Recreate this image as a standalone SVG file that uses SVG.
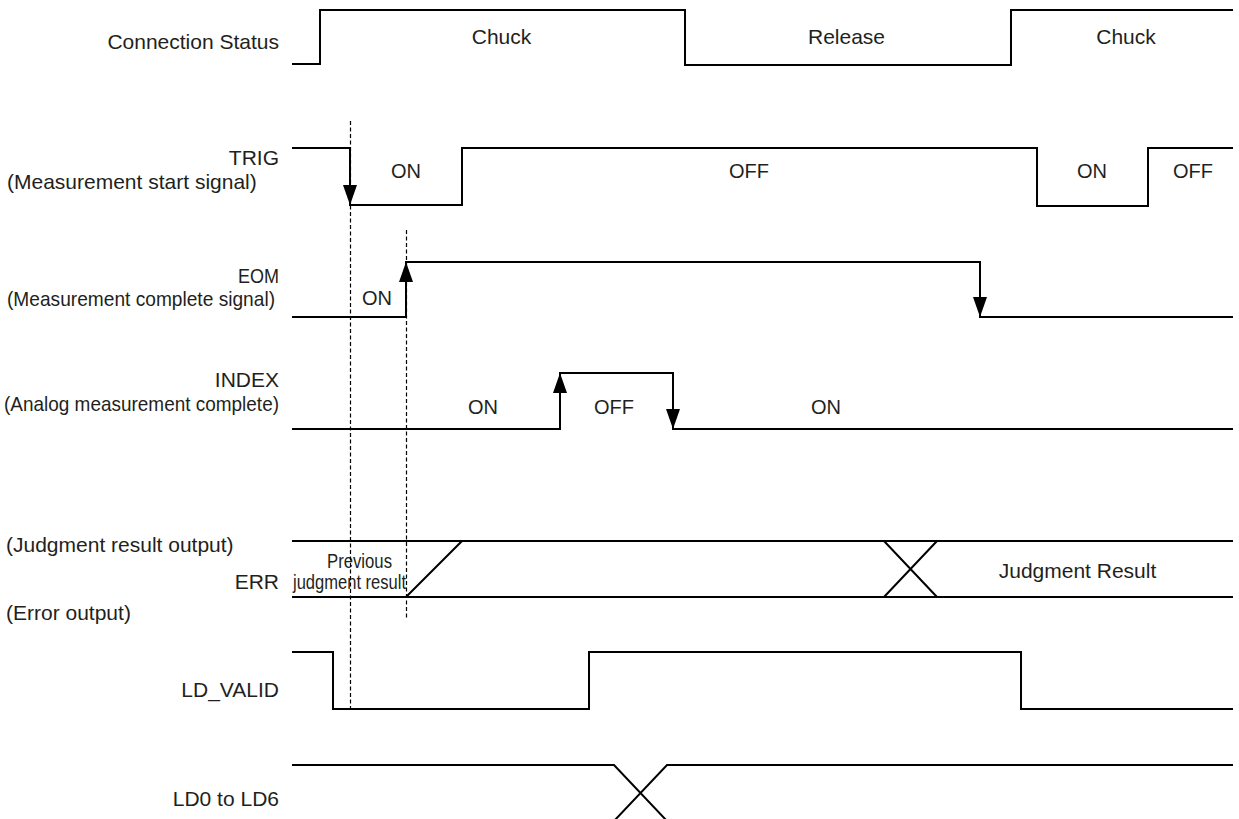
<svg xmlns="http://www.w3.org/2000/svg" width="1239" height="819" viewBox="0 0 1239 819">
  <style>
    .lbl { font-family: "Liberation Sans", Arial, sans-serif; font-size: 21px; fill: #231f20; }
    .st { font-family: "Liberation Sans", Arial, sans-serif; font-size: 20px; fill: #231f20; }
    .end { text-anchor: end; }
    .mid { text-anchor: middle; }
    .wave { fill: none; stroke: #000; stroke-width: 2; stroke-linejoin: miter; stroke-linecap: butt; }
    .arrow { fill: none; stroke: #000; stroke-width: 2; marker-end: url(#ah); }
    .guide { fill: none; stroke: #000; stroke-width: 1.2; stroke-dasharray: 4 2.5; }
  </style>
  <defs>
    <marker id="ah" markerUnits="userSpaceOnUse" viewBox="0 0 20 14" markerWidth="20" markerHeight="14" refX="20" refY="7" orient="auto">
      <path d="M0,0 L20,7 L0,14 z" fill="#000"/>
    </marker>
  </defs>
  <rect width="1239" height="819" fill="#fff"/>

  <g id="connection-status">
    <text class="lbl end" x="279" y="49">Connection Status</text>
    <path class="wave" d="M292,64 H320 V10 H685 V65 H1011 V10 H1233"/>
    <text class="lbl mid" x="501.5" y="44">Chuck</text>
    <text class="lbl mid" x="846.5" y="44">Release</text>
    <text class="lbl mid" x="1126" y="44">Chuck</text>
  </g>

  <g id="trig">
    <text class="lbl end" x="279" y="165">TRIG</text>
    <text class="lbl" x="7" y="188.5">(Measurement start signal)</text>
    <path class="wave" d="M292,148 H350 V205 H462 V148 H1037 V206 H1148 V148 H1233"/>
    <text class="st mid" x="406" y="178">ON</text>
    <text class="st mid" x="749" y="178">OFF</text>
    <text class="st mid" x="1092" y="178">ON</text>
    <text class="st mid" x="1193" y="178">OFF</text>
  </g>

  <g id="eom">
    <text class="lbl end" x="279" y="283" textLength="41" lengthAdjust="spacingAndGlyphs">EOM</text>
    <text class="lbl" x="7" y="306" textLength="268" lengthAdjust="spacingAndGlyphs">(Measurement complete signal)</text>
    <path class="wave" d="M292,317 H406 V262 H980 V317 H1233"/>
    <text class="st mid" x="377" y="305">ON</text>
  </g>

  <g id="index">
    <text class="lbl end" x="279" y="387">INDEX</text>
    <text class="lbl" x="4" y="411" textLength="275" lengthAdjust="spacingAndGlyphs">(Analog measurement complete)</text>
    <path class="wave" d="M292,429 H560 V373 H673 V429 H1233"/>
    <text class="st mid" x="483" y="414">ON</text>
    <text class="st mid" x="614" y="414">OFF</text>
    <text class="st mid" x="826" y="414">ON</text>
  </g>

  <g id="judgment-err">
    <text class="lbl" x="6" y="552">(Judgment result output)</text>
    <text class="lbl end" x="279" y="589">ERR</text>
    <text class="lbl" x="6" y="620">(Error output)</text>
    <path class="wave" d="M292,541 H1233 M292,597 H1233 M406,597 L462,541 M884,541 L937,597 M884,597 L937,541"/>
    <text class="st" x="327" y="568" textLength="65" lengthAdjust="spacingAndGlyphs">Previous</text>
    <text class="st" x="293" y="589" textLength="113" lengthAdjust="spacingAndGlyphs">judgment result</text>
    <text class="lbl mid" x="1077.5" y="578">Judgment Result</text>
  </g>

  <g id="ld-valid">
    <text class="lbl end" x="279" y="697">LD_VALID</text>
    <path class="wave" d="M292,652 H333 V709 H589 V652 H1021 V709 H1233"/>
  </g>

  <g id="ld0-ld6">
    <text class="lbl end" x="279" y="806">LD0 to LD6</text>
    <path class="wave" d="M292,765 H614 L667,821 M614,821 L667,765 H1233"/>
  </g>

  <g id="connectors">
    <path class="guide" d="M350.5,121 V709"/>
    <path class="guide" d="M406.5,230 V620"/>
    <path class="arrow" d="M350,148 V205"/>
    <path class="arrow" d="M406,317 V262"/>
    <path class="arrow" d="M980,262 V317"/>
    <path class="arrow" d="M560,429 V373"/>
    <path class="arrow" d="M673,373 V429"/>
  </g>
</svg>
